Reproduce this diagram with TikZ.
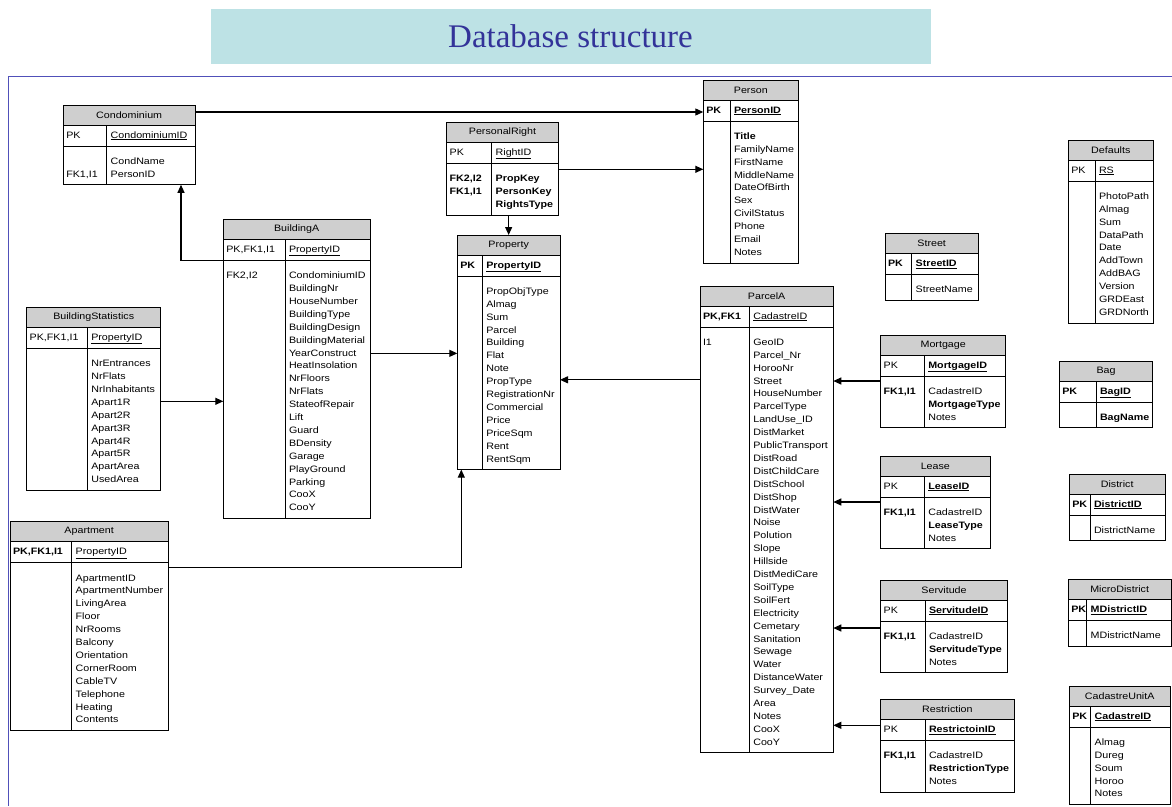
\documentclass[tikz,border=0pt]{standalone}
\usepackage{fontspec}
\setmainfont{Liberation Serif}
\newfontfamily\erfont{Liberation Sans}[FakeStretch=1.15]
\usetikzlibrary{arrows.meta, fit, positioning}
\definecolor{titlebg}{RGB}{189,226,229}
\definecolor{titleblue}{RGB}{51,51,153}
\definecolor{framecol}{RGB}{80,80,185}

\tikzset{
  erhead/.style={draw, fill=gray!38, anchor=north west, minimum height=20pt, inner sep=0pt, outer sep=0pt},
  erpk/.style={draw, anchor=north west, minimum height=21pt, inner xsep=3pt, inner ysep=0pt, outer sep=0pt,
    align=left, text height=7pt, text depth=2pt},
  erbody/.style={draw, anchor=north west, inner xsep=4pt, inner ysep=0pt, outer sep=0pt, align=left,
    execute at begin node={\rule{0pt}{18.3pt}}, execute at end node={\rule[-7.6pt]{0pt}{7.6pt}}},
  fk/.style={line width=1.1pt, -{Triangle[length=8pt,width=7pt]}}
}

% one table: name, top left, key width, field width, title, pk key, pk field, keys, fields
\newcommand\ertable[9]{%
  \pgfmathsetmacro\erall{#3+#4}%
  \pgfmathsetmacro\erkw{#3-6}%
  \pgfmathsetmacro\erfw{#4-8}%
  \node[erhead, minimum width=\erall pt] (#1) at (#2) {#5};
  \node[erpk, text width=\erkw pt] (#1-pk) at (#1.south west) {#6};
  \node[erpk, inner xsep=4pt, text width=\erfw pt] (#1-id) at (#1-pk.north east) {\underline{#7}};
  \node[erbody, text width=\erfw pt] (#1-body) at (#1-id.south west) {#9};
  \node[draw, inner sep=0pt, outer sep=0pt, fit=(#1-pk.south west)(#1-body.south west)] (#1-kbox) {};
  \node[erbody, draw=none, inner xsep=3pt, text width=\erkw pt] (#1-keys) at (#1-kbox.north west) {#8};
}

\begin{document}
\begin{tikzpicture}[x=1pt, y=-1pt, line width=1pt, font=\erfont\fontsize{9.3}{12.9}\selectfont]
\useasboundingbox (0,0) rectangle (1172,806);

% title and frame
\node[fill=titlebg, anchor=north west, minimum width=720pt, minimum height=55pt,
  font=\fontsize{33}{36}\selectfont, text=titleblue] (title) at (210,8) {Database structure};
\draw[framecol, line width=1.8pt] (1172,76.5) -- (8.5,76.5) -- (8.5,806);

% tables
\ertable{condo}{63.3,105}{43.4}{88.3}{Condominium}{PK}{CondominiumID}{\\FK1,I1}{CondName\\PersonID}
\ertable{buildA}{223.3,219.3}{61.7}{85}{BuildingA}{PK,FK1,I1}{PropertyID}{FK2,I2}%
  {CondominiumID\\BuildingNr\\HouseNumber\\BuildingType\\BuildingDesign\\BuildingMaterial\\YearConstruct\\HeatInsolation\\NrFloors\\NrFlats\\StateofRepair\\Lift\\Guard\\BDensity\\Garage\\PlayGround\\Parking\\CooX\\CooY}
\ertable{bstat}{26.7,307.3}{60.6}{73.4}{BuildingStatistics}{PK,FK1,I1}{PropertyID}{}%
  {NrEntrances\\NrFlats\\NrInhabitants\\Apart1R\\Apart2R\\Apart3R\\Apart4R\\Apart5R\\ApartArea\\UsedArea}
\ertable{apart}{10,521.7}{61.7}{96.6}{Apartment}{\textbf{PK,FK1,I1}}{PropertyID}{}%
  {ApartmentID\\ApartmentNumber\\LivingArea\\Floor\\NrRooms\\Balcony\\Orientation\\CornerRoom\\CableTV\\Telephone\\Heating\\Contents}
\ertable{person}{703.3,80}{26.7}{68.3}{Person}{\textbf{PK}}{\textbf{PersonID}}{}%
  {\textbf{Title}\\FamilyName\\FirstName\\MiddleName\\DateOfBirth\\Sex\\CivilStatus\\Phone\\Email\\Notes}
\ertable{pright}{446.7,122.3}{45}{66.6}{PersonalRight}{PK}{RightID}{\textbf{FK2,I2}\\\textbf{FK1,I1}}%
  {\textbf{PropKey}\\\textbf{PersonKey}\\\textbf{RightsType}}
\ertable{property}{457.3,235}{25}{77.7}{Property}{\textbf{PK}}{\textbf{PropertyID}}{}%
  {PropObjType\\Almag\\Sum\\Parcel\\Building\\Flat\\Note\\PropType\\RegistrationNr\\Commercial\\Price\\PriceSqm\\Rent\\RentSqm}
\ertable{parcel}{700,286}{49.3}{84}{ParcelA}{\textbf{PK,FK1}}{CadastreID}{I1}%
  {GeoID\\Parcel\_Nr\\HorooNr\\Street\\HouseNumber\\ParcelType\\LandUse\_ID\\DistMarket\\PublicTransport\\DistRoad\\DistChildCare\\DistSchool\\DistShop\\DistWater\\Noise\\Polution\\Slope\\Hillside\\DistMediCare\\SoilType\\SoilFert\\Electricity\\Cemetary\\Sanitation\\Sewage\\Water\\DistanceWater\\Survey\_Date\\Area\\Notes\\CooX\\CooY}
\ertable{street}{885,233.3}{26.7}{66.6}{Street}{\textbf{PK}}{\textbf{StreetID}}{}{StreetName}
\ertable{defaults}{1068.3,140}{26.7}{58.3}{Defaults}{PK}{RS}{}%
  {PhotoPath\\Almag\\Sum\\DataPath\\Date\\AddTown\\AddBAG\\Version\\GRDEast\\GRDNorth}
\ertable{mort}{880.7,335}{43.6}{81.4}{Mortgage}{PK}{\textbf{MortgageID}}{\textbf{FK1,I1}}%
  {CadastreID\\\textbf{MortgageType}\\Notes}
\ertable{lease}{880.7,456}{43.6}{65.7}{Lease}{PK}{\textbf{LeaseID}}{\textbf{FK1,I1}}%
  {CadastreID\\\textbf{LeaseType}\\Notes}
\ertable{servit}{880.7,580}{44.3}{82.3}{Servitude}{PK}{\textbf{ServitudeID}}{\textbf{FK1,I1}}%
  {CadastreID\\\textbf{ServitudeType}\\Notes}
\ertable{restr}{880.7,699.3}{44.3}{89}{Restriction}{PK}{\textbf{RestrictoinID}}{\textbf{FK1,I1}}%
  {CadastreID\\\textbf{RestrictionType}\\Notes}
\ertable{bag}{1059.3,361}{36.7}{56.7}{Bag}{\textbf{PK}}{\textbf{BagID}}{}{\textbf{BagName}}
\ertable{district}{1069.3,474}{20.7}{75}{District}{\textbf{PK}}{\textbf{DistrictID}}{}{DistrictName}
\ertable{mdistr}{1068.3,579.3}{18.4}{84.3}{MicroDistrict}{\textbf{PK}}{\textbf{MDistrictID}}{}{MDistrictName}
\ertable{cunit}{1069.3,686}{21.4}{79.3}{CadastreUnitA}{\textbf{PK}}{\textbf{CadastreID}}{}%
  {Almag\\Dureg\\Soum\\Horoo\\Notes}

% relations
\draw[fk] ([yshift=3]condo.east) coordinate (c1) -- (c1 -| person-pk.west);
\draw[fk] ([yshift=-6]pright-body.north east) coordinate (c2) -- (c2 -| person-kbox.west);
\draw[fk] (property.north |- pright-body.south) -- (property.north);
\draw[fk] (buildA-pk.south west) -| ([xshift=-14]condo-body.south east);
\draw[fk] ([yshift=18]bstat-body.east) coordinate (c3) -- (c3 -| buildA-kbox.west);
\draw[fk] ([yshift=36]buildA-body.east) coordinate (c4) -- (c4 -| property-kbox.west);
\coordinate (c5) at ([yshift=-7]property-body.east);
\draw[fk] (c5 -| parcel-kbox.west) -- (c5);
\draw[fk] ([yshift=-5]apart-body.north east) -| ([xshift=4]property-kbox.south west);
\draw[fk] ([yshift=-5]mort-kbox.north west) coordinate (c6) -- (c6 -| parcel-body.east);
\draw[fk] ([yshift=-5]lease-kbox.north west) coordinate (c7) -- (c7 -| parcel-body.east);
\draw[fk] ([yshift=-7]servit-kbox.north west) coordinate (c8) -- (c8 -| parcel-body.east);
\draw[fk] ([yshift=-6]restr-pk.north west) coordinate (c9) -- (c9 -| parcel-body.east);
\end{tikzpicture}
\end{document}
